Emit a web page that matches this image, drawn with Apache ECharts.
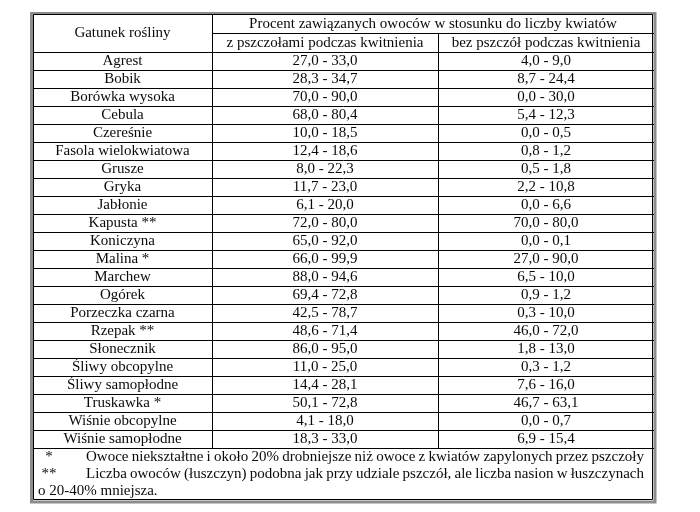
<!DOCTYPE html>
<html><head><meta charset="utf-8">
<script src="https://cdn.jsdelivr.net/npm/echarts/dist/echarts.min.js"></script>
<style>html,body{margin:0;padding:0;background:#fff}#c{width:700px;height:512px}</style>
</head><body><div id="c"></div>
<script>
// ---- data ----
const plants = ['Agrest','Bobik','Borówka wysoka','Cebula','Czereśnie','Fasola wielokwiatowa','Grusze','Gryka','Jabłonie','Kapusta **','Koniczyna','Malina *','Marchew','Ogórek','Porzeczka czarna','Rzepak **','Słonecznik','Śliwy obcopylne','Śliwy samopłodne','Truskawka *','Wiśnie obcopylne','Wiśnie samopłodne'];
const withBeesLow  = [27.0,28.3,70.0,68.0,10.0,12.4, 8.0,11.7, 6.1,72.0,65.0,66.0,88.0,69.4,42.5,48.6,86.0,11.0,14.4,50.1, 4.1,18.3];
const withBeesHigh = [33.0,34.7,90.0,80.4,18.5,18.6,22.3,23.0,20.0,80.0,92.0,99.9,94.6,72.8,78.7,71.4,95.0,25.0,28.1,72.8,18.0,33.0];
const withoutBeesLow  = [4.0, 8.7, 0.0, 5.4,0.0,0.8,0.5, 2.2,0.0,70.0,0.0,27.0, 6.5,0.9, 0.3,46.0, 1.8,0.3, 7.6,46.7,0.0, 6.9];
const withoutBeesHigh = [9.0,24.4,30.0,12.3,0.5,1.2,1.8,10.8,6.6,80.0,0.1,90.0,10.0,1.2,10.0,72.0,13.0,1.2,16.0,63.1,0.7,15.4];
const headerTitle = 'Gatunek rośliny';
const headerGroup = 'Procent zawiązanych owoców w stosunku do liczby kwiatów';
const headerCols = ['z pszczołami podczas kwitnienia', 'bez pszczół podczas kwitnienia'];
const noteMarks = ['*', '**', ''];
const noteTexts = ['Owoce niekształtne i około 20% drobniejsze niż owoce z kwiatów zapylonych przez pszczoły',
                   'Liczba owoców (łuszczyn) podobna jak przy udziale pszczół, ale liczba nasion w łuszczynach',
                   'o 20-40% mniejsza.'];

// ---- layout (table units = px) ----
const TW = 621, TH = 487;
const colEdges = [0, 179, 405, 621];
const H1 = 19, H2 = 38, ROW = 18;
const BODY_END = H2 + plants.length * ROW;
const FONT = '15px "Liberation Serif", "Times New Roman", serif';
const NOTE_LEFT = 53, NOTE_RIGHT = 611;
const measureCtx = document.createElement('canvas').getContext('2d');
measureCtx.font = FONT;

function fmt(v){ return v.toFixed(1).replace('.', ','); }
function px(v){ return Math.round(v) + 0.5; }
function hline(api, x0, x1, y){
  const a = api.coord([x0, y]), b = api.coord([x1, y]);
  return {type:'line', shape:{x1:a[0], y1:px(a[1]), x2:b[0], y2:px(b[1])}, style:{stroke:'#000', lineWidth:1}};
}
function vline(api, x, y0, y1){
  const a = api.coord([x, y0]), b = api.coord([x, y1]);
  return {type:'line', shape:{x1:px(a[0]), y1:a[1], x2:px(b[0]), y2:b[1]}, style:{stroke:'#000', lineWidth:1}};
}
function txt(api, x, y, s, align){
  const p = api.coord([x, y]);
  return {type:'text', style:{text:s, x:p[0], y:p[1], align:align||'center', verticalAlign:'middle', font:FONT, fill:'#0a0a0a'}};
}
function justified(api, s, x0, x1, y){
  const words = s.split(' ');
  const ws = words.map(w => measureCtx.measureText(w).width);
  const total = ws.reduce((a,b)=>a+b, 0);
  const gap = (x1 - x0 - total) / (words.length - 1);
  const out = [];
  let x = x0;
  words.forEach((w, k) => { out.push(txt(api, x, y, w, 'left')); x += ws[k] + gap; });
  return out;
}

function renderRow(params, api){
  const i = api.value(1);
  const y0 = H2 + i * ROW, y1 = y0 + ROW, yc = (y0 + y1) / 2;
  const cells = [plants[i],
    fmt(withBeesLow[i]) + ' - ' + fmt(withBeesHigh[i]),
    fmt(withoutBeesLow[i]) + ' - ' + fmt(withoutBeesHigh[i])];
  const ch = [];
  for (let c = 0; c < 3; c++) ch.push(txt(api, (colEdges[c] + colEdges[c+1]) / 2, yc + 0.5, cells[c]));
  ch.push(hline(api, 0, TW, y1));
  ch.push(vline(api, colEdges[1], y0, y1));
  ch.push(vline(api, colEdges[2], y0, y1));
  return {type:'group', children:ch};
}

function renderFrame(params, api){
  const ch = [];
  const tl = api.coord([0, 0]), br = api.coord([TW, TH]);
  ch.push({type:'rect', shape:{x:tl[0]-1.5, y:tl[1]-0.5, width:br[0]-tl[0]+2.5, height:br[1]-tl[1]+1.5}, style:{fill:'none', stroke:'#8c8c8c', lineWidth:3}});
  ch.push({type:'rect', shape:{x:tl[0]+0.5, y:tl[1]+0.5, width:br[0]-tl[0]-2, height:br[1]-tl[1]-2}, style:{fill:'#fff', stroke:'#000', lineWidth:1}});
  // header
  ch.push(txt(api, (colEdges[0] + colEdges[1]) / 2, H2 / 2 + 0.5, headerTitle));
  ch.push(txt(api, (colEdges[1] + colEdges[3]) / 2, H1 / 2 + 0.5, headerGroup));
  ch.push(txt(api, (colEdges[1] + colEdges[2]) / 2, (H1 + H2) / 2 + 0.5, headerCols[0]));
  ch.push(txt(api, (colEdges[2] + colEdges[3]) / 2, (H1 + H2) / 2 + 0.5, headerCols[1]));
  ch.push(hline(api, colEdges[1], TW, H1));
  ch.push(hline(api, 0, TW, H2));
  ch.push(vline(api, colEdges[1], 0, H2));
  ch.push(vline(api, colEdges[2], H1, H2));
  // footnotes
  const fy = [BODY_END + 9, BODY_END + 26, BODY_END + 43];
  for (let k = 0; k < 3; k++){
    if (noteMarks[k]) {
      ch.push(txt(api, 16, fy[k], noteMarks[k], 'center'));
      ch.push.apply(ch, justified(api, noteTexts[k], NOTE_LEFT, NOTE_RIGHT, fy[k]));
    } else {
      ch.push(txt(api, 5, fy[k], noteTexts[k], 'left'));
    }
  }
  return {type:'group', children:ch};
}

const chart = echarts.init(document.getElementById('c'), null, {renderer:'canvas'});
chart.setOption({
  animation:false,
  backgroundColor:'#fff',
  grid:{left:33, top:14, width:TW, height:TH},
  xAxis:{type:'value', min:0, max:TW, show:false},
  yAxis:{type:'value', min:0, max:TH, inverse:true, show:false},
  series:[
    {type:'custom', name:'frame', renderItem:renderFrame, data:[[0,0]], clip:false, z:1, silent:true},
    {type:'custom', name:'rows', renderItem:renderRow, data:plants.map((p,i)=>[0,i]), clip:false, z:2, silent:true}
  ]
});
</script></body></html>
